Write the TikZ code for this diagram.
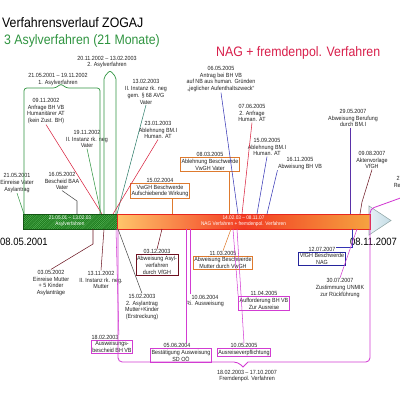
\documentclass[tikz,border=0pt]{standalone}
\usepackage{fontspec}
\setmainfont{Liberation Sans}[FakeStretch=0.9]
\usetikzlibrary{positioning,calc,patterns}
\definecolor{AsylGreen}{HTML}{2F9440}
\definecolor{AsylDark}{HTML}{1C7A1C}
\definecolor{AsylHatch}{HTML}{62BE62}
\definecolor{NagRed}{HTML}{D81E4A}
\definecolor{BarRed}{HTML}{E8281E}
\definecolor{NagLight}{HTML}{FFC56A}
\definecolor{NagMid}{HTML}{F23C22}
\definecolor{NagEnd}{HTML}{F5A340}
\definecolor{TipBlue}{HTML}{C4DCE6}
\definecolor{TipGrey}{HTML}{93A8A8}
\definecolor{FrMagenta}{HTML}{D23CD2}
\definecolor{LineBlue}{HTML}{3434B4}
\definecolor{LinePurple}{HTML}{5A32A8}
\definecolor{LineRed}{HTML}{D8203C}
\definecolor{LineTeal}{HTML}{2E7D6A}
\definecolor{LineDark}{HTML}{6A1420}
\definecolor{LineGrey}{HTML}{4A4A4A}
\definecolor{BoxOrange}{HTML}{DE7A2E}
\definecolor{BoxDarkRed}{HTML}{6E1020}
\definecolor{BoxBlue}{HTML}{24249C}
\definecolor{TextGrey}{HTML}{222222}
\tikzset{
  % event texts
  EV/.style={align=center,inner sep=0.6pt,text=TextGrey,
             font=\fontsize{8.5}{9.8}\selectfont},
  DT/.style={EV,inner sep=0.4pt},
  % framed events
  BX/.style={EV,draw,line width=1.1pt,fill=white,inner sep=1.6pt},
  bO/.style={BX,draw=BoxOrange},
  bM/.style={BX,draw=FrMagenta},
  bR/.style={BX,draw=BoxDarkRed},
  bB/.style={BX,draw=BoxBlue},
  % headings and big dates
  HD/.style={font=\fontsize{19.5}{22}\selectfont,inner sep=0pt},
  BD/.style={font=\fontsize{15}{17}\selectfont,inner sep=0pt},
  % timeline
  asylBar/.style={draw=AsylDark!70!black,line width=0.8pt,preaction={fill=AsylDark},
                  pattern=north east lines,pattern color=AsylHatch,
                  minimum width=4.7cm,minimum height=0.75cm,inner sep=0pt,
                  align=center,text=white,font=\fontsize{7.5}{8.6}\selectfont},
  nagBar/.style={draw=BarRed,line width=1pt,left color=NagLight,right color=NagEnd,
                 middle color=NagMid,minimum width=12.65cm,minimum height=0.75cm,
                 inner sep=0pt,align=center,text=white,font=\fontsize{7.5}{8.6}\selectfont},
  tipSt/.style={draw=TipGrey,line width=0.8pt,left color=TipBlue!40!white,right color=TipBlue},
  % brackets and connectors
  asylBr/.style={draw=AsylGreen,line width=1pt,rounded corners=4pt},
  frBr/.style={draw=FrMagenta,line width=1.2pt},
  cn/.style={line width=0.75pt}
}
\begin{document}
\begin{tikzpicture}[x=0.05cm,y=-0.05cm]
  \useasboundingbox (0,0) rectangle (400,400);
  \draw[tipSt] (369,206) -- (391,220.5) -- (369,235) -- cycle;

  % headings
  \node[HD,anchor=base west] (title) at (2,27) {Verfahrensverlauf ZOGAJ};
  \node[HD,anchor=base west,text=AsylGreen] (asylHead) at (4,44) {3 Asylverfahren (21 Monate)};
  \node[HD,anchor=base west,text=NagRed] (nagHead) at (216,56.5) {NAG + fremdenpol. Verfahren};

  % timeline
  \node[asylBar] (asylBar) at (70,221.5) {21.05.01 -- 13.02.03\\Asylverfahren};
  \node[nagBar] (nagBar) at (243.5,221.5) {14.02.03 -- 08.11.07\\NAG Verfahren + fremdenpol. Verfahren};
  \node[BD,anchor=west] (startDate) at (0,242) {08.05.2001};
  \node[BD,anchor=west] (endDate) at (350,242) {08.11.2007};

  % asylum periods
  \node[EV] (asyl1) at (58,79.5) {21.05.2001 -- 19.11.2002\\1. Asylverfahren};
  \node[EV] (asyl2) at (107,62) {20.11.2002 -- 13.02.2003\\2. Asylverfahren};
  \node[EV] (fremdenpol) at (247,376) {18.02.2003 -- 17.10.2007\\Fremdenpol. Verfahren};

  % events above the timeline
  \node[EV] (einreiseV) at (17,183) {21.05.2001\\Einreise Vater\\Asylantrag};
  \node[EV] (bescheidV) at (62,181) {16.05.2002\\Bescheid BAA\\Vater};
  \node[EV] (anfrageBH) at (46,111) {09.11.2002\\Anfrage BH VB\\Humanitärer AT\\(kein Zust. BH)};
  \node[EV] (instanzV) at (87,139) {19.11.2002\\II. Instanz rk. neg\\Vater};
  \node[EV] (instanzVG) at (146,92) {13.02.2003\\II. Instanz rk. neg\\gem. § 68 AVG\\Vater};
  \node[EV] (ablehnungH) at (158,130) {23.01.2003\\Ablehnung BM.I\\Human. AT};
  \node[bO] (vwghAW) at (160,191) {VwGH Beschwerde\\Aufschiebende Wirkung};
  \node[DT,above=0pt of vwghAW] (vwghAWd) {15.02.2004};
  \node[bO] (vwghV) at (210,164.5) {Ablehnung Beschwerde\\VwGH Vater};
  \node[DT,above=0pt of vwghV] (vwghVd) {08.03.2005};
  \node[EV] (antragNB) at (221,79) {06.05.2005\\Antrag bei BH VB\\auf NB aus human. Gründen\\„jeglicher Aufenthaltszweck“};
  \node[EV] (anfrageH) at (252,113) {07.06.2005\\2. Anfrage\\Human. AT};
  \node[EV] (ablehnungH2) at (267,147) {15.09.2005\\Ablehnung BM.I\\Human. AT};
  \node[EV] (abweisungBH) at (300,163.5) {16.11.2005\\Abweisung BH VB};
  \node[EV] (berufung) at (353,118) {29.05.2007\\Abweisung Berufung\\durch BM.I};
  \node[EV] (aktenVfGH) at (372,160) {09.08.2007\\Aktenvorlage\\VfGH};
  \node[EV] (repVater) at (410,185) {27.09.2007\\Repatriierung\\Vater};

  % events below the timeline
  \node[EV] (einreiseM) at (51,283) {03.05.2002\\Einreise Mutter\\+ 5 Kinder\\Asylanträge};
  \node[EV] (instanzM) at (101,280) {13.11.2002\\II. Instanz rk. neg.\\Mutter};
  \node[EV] (asylantrag) at (142,307) {15.02.2003\\2. Asylantrag\\Mutter+Kinder\\(Erstreckung)};
  \node[bM] (ausweisungB) at (112,347) {Ausweisungs-\\bescheid BH VB};
  \node[DT,above=0pt of ausweisungB,xshift=-0.35cm] (ausweisungBd) {18.02.2003};
  \node[bR] (abweisungAV) at (157,265) {Abweisung Asyl-\\verfahren\\durch VfGH};
  \node[DT,above=0pt of abweisungAV] (abweisungAVd) {03.12.2003};
  \node[EV] (riAusweisung) at (205,301) {10.06.2004\\Ri. Ausweisung};
  \node[bM] (bestaetigung) at (181,355.5) {Bestätigung Ausweisung\\SD OÖ};
  \node[DT,above=0pt of bestaetigung,xshift=-0.2cm] (bestaetigungd) {05.06.2004};
  \node[bO] (vwghM) at (223,263) {Abweisung Beschwerde\\Mutter durch VwGH};
  \node[DT,above=0pt of vwghM] (vwghMd) {11.03.2005};
  \node[bM] (ausreise) at (244,352.5) {Ausreiseverpflichtung};
  \node[DT,above=0pt of ausreise] (ausreised) {10.05.2005};
  \node[bM] (aufforderung) at (264,303.5) {Aufforderung BH VB\\Zur Ausreise};
  \node[DT,above=0pt of aufforderung] (aufforderungd) {11.04.2005};
  \node[bB] (vfghNAG) at (322,259) {VfGH Beschwerde\\NAG};
  \node[DT,above=0pt of vfghNAG] (vfghNAGd) {12.07.2007};
  \node[EV] (unmik) at (340,288) {30.07.2007\\Zustimmung UNMIK\\zur Rückführung};

  % points on the timeline
  \foreach \n/\x in {asylA/24,asylB/100,asylC/104,asylD/116,einreiseV/24,bescheidV/77,
      anfrageBH/102,instanzV/101,instanzVG/117,ablehnungH/113,vwghAW/172,vwghV/229,
      antragNB/238,anfrageH/242,ablehnungH2/257,abweisungBH/267,berufung/350,aktenVfGH/360}
    \coordinate (t-\n) at (\x,214);
  \foreach \n/\x in {frL/118,einreiseM/93,instanzM/104,asylantrag/118,ausweisungB/116,
      abweisungAV/162,riAusweisung/190,bestaetigung/186,vwghM/231,ausreise/237,
      aufforderung/233,vfghNAG/352,unmik/357}
    \coordinate (b-\n) at (\x,229);
  \coordinate (frEnd) at (406,196);

  % brackets
  \draw[asylBr] (t-asylA) -- (24,88) -- (56,88) -- (61,83.5) -- (66,88) -- (100,88) -- (t-asylB);
  \draw[asylBr,rounded corners=3pt] (t-asylC) -- (104,77) -- (110,70.5) -- (116,77) -- (t-asylD);
  \draw[frBr] (b-frL) [rounded corners=6pt] -- (118,362) -- (238,362) [sharp corners] -- (243,367)
    -- (248,362) [rounded corners=6pt] -- (370,362) -- (370,209) -- (frEnd);

  % connectors above
  \draw[cn,AsylGreen] (einreiseV.south) -- (t-einreiseV);
  \draw[cn,LineGrey] (bescheidV.south) -- ($(t-bescheidV)+(0,-13)$) -- (t-bescheidV);
  \draw[cn,LineRed] (anfrageBH.south) -- (t-anfrageBH);
  \draw[cn,AsylGreen] (instanzV.south) -- (t-instanzV);
  \draw[cn,LineTeal] (instanzVG.south) -- (t-instanzVG);
  \draw[cn,LineRed] (ablehnungH.south) -- (t-ablehnungH);
  \draw[cn,BoxOrange] (vwghAW.south -| t-vwghAW) -- (t-vwghAW);
  \draw[cn,BoxOrange] (vwghV.south -| t-vwghV) -- (t-vwghV);
  \draw[cn,LineBlue] (antragNB.south) -- (t-antragNB);
  \draw[cn,LineRed] (anfrageH.south) -- (t-anfrageH);
  \draw[cn,LineBlue] (ablehnungH2.south) -- (t-ablehnungH2);
  \draw[cn,LineBlue] (abweisungBH.south west) -- (t-abweisungBH);
  \draw[cn,LinePurple] (berufung.south -| t-berufung) -- (t-berufung);
  \draw[cn,LineDark] (aktenVfGH.south) -- ($(t-aktenVfGH)+(2,-12)$) -- (t-aktenVfGH);

  % connectors below
  \draw[cn,LineDark] (b-einreiseM) -- ($(b-einreiseM)+(0,15)$) -- (einreiseM.north);
  \draw[cn,LineDark] (b-instanzM) -- (instanzM.north);
  \draw[cn,LineGrey] (b-asylantrag) -- (asylantrag.north);
  \draw[cn,FrMagenta] (b-ausweisungB) -- (ausweisungBd.north east);
  \draw[cn,BoxDarkRed] (b-abweisungAV) -- (abweisungAVd.north);
  \draw[cn,FrMagenta] (b-riAusweisung) -- (b-riAusweisung |- riAusweisung.north);
  \draw[cn,FrMagenta] (b-bestaetigung) -- (b-bestaetigung |- bestaetigungd.north);
  \draw[cn,BoxOrange] (b-vwghM) -- (vwghMd.north);
  \draw[cn,FrMagenta] (b-ausreise) -- (ausreised.north);
  \draw[cn,FrMagenta] (b-aufforderung) -- (aufforderung.north west);
  \draw[cn,LineBlue] (b-vfghNAG) |- (vfghNAGd.north east);
  \draw[cn,FrMagenta] (b-unmik) -- (unmik.north);
\end{tikzpicture}
\end{document}
